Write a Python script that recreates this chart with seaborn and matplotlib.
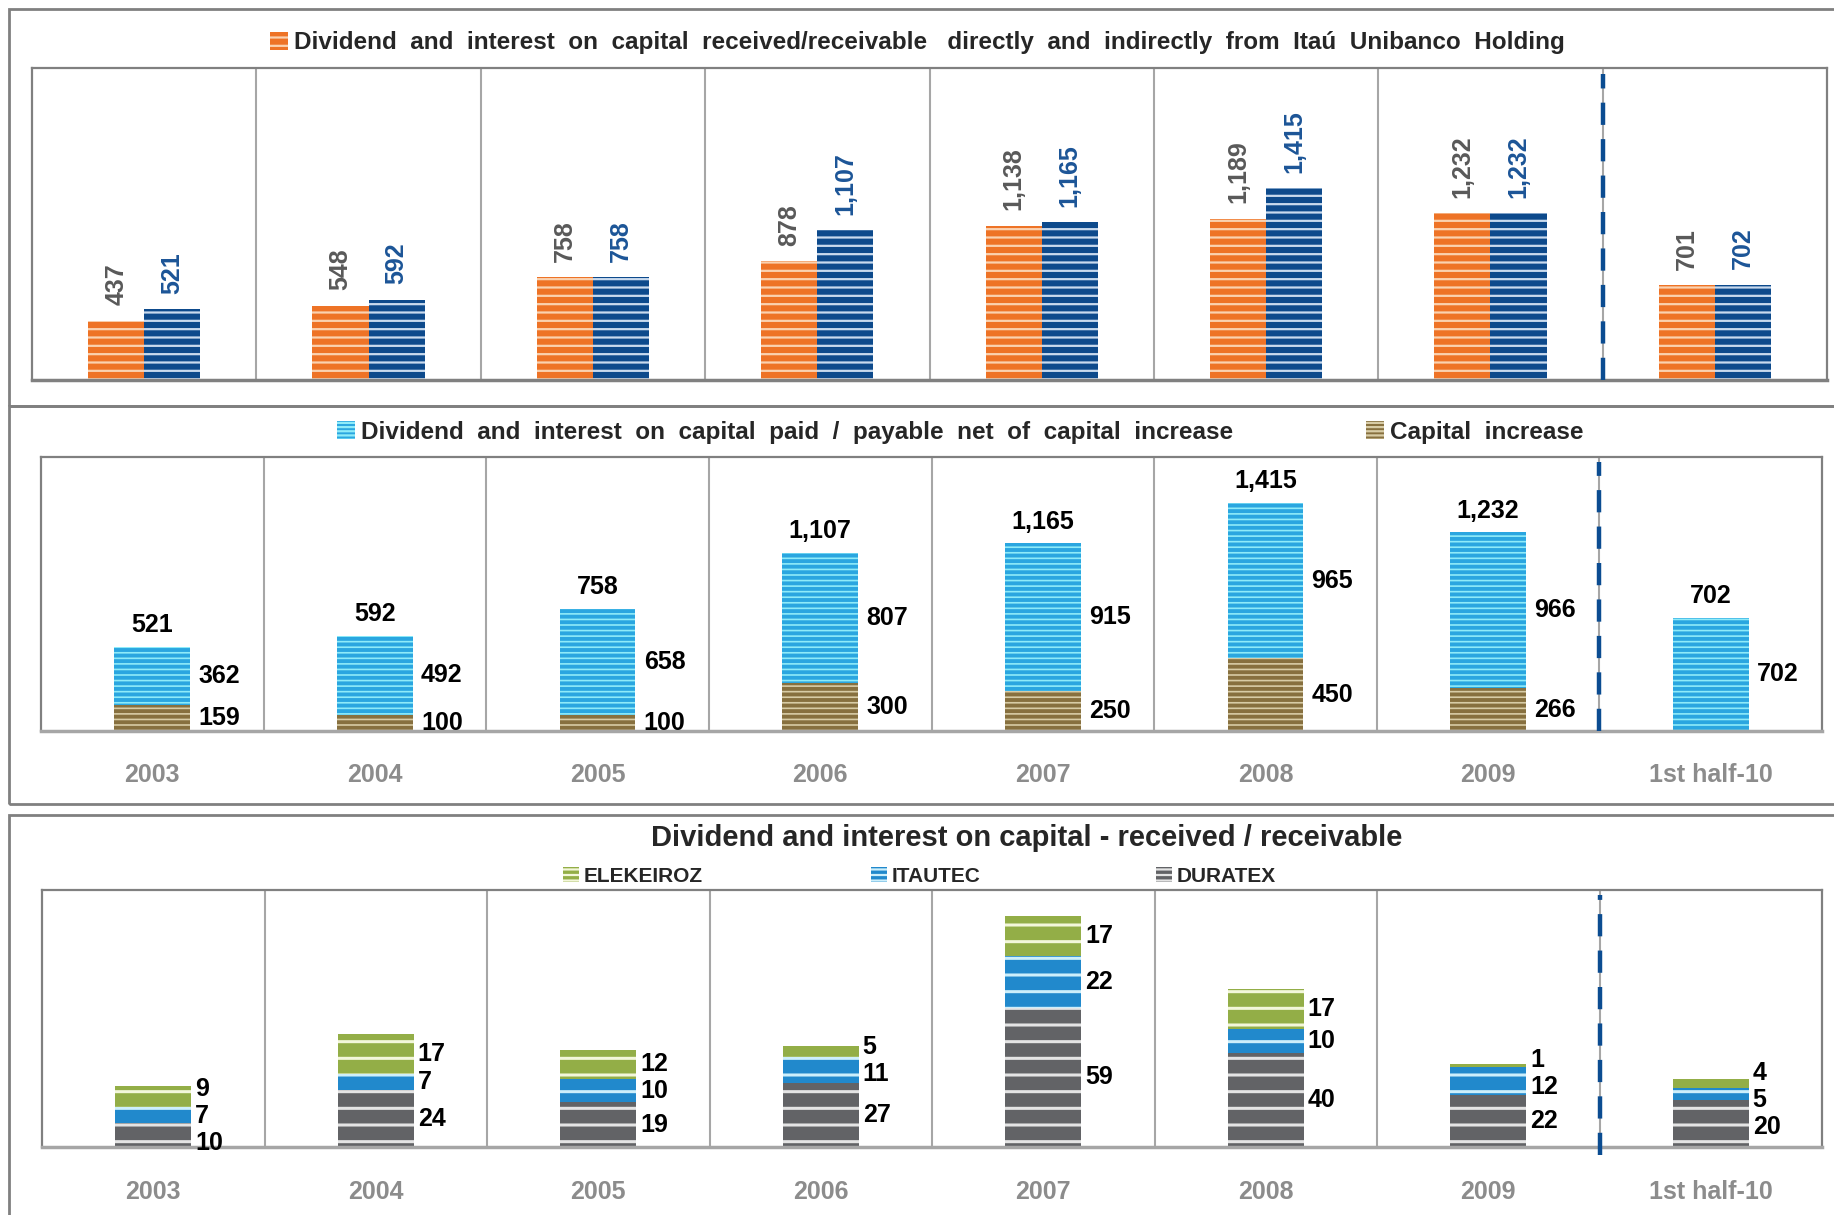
import matplotlib
matplotlib.use("Agg")
import matplotlib.pyplot as plt
from matplotlib.patches import Rectangle, Patch
import seaborn as sns
import pandas as pd

# ---------------- data ----------------
periods = ['2003', '2004', '2005', '2006', '2007', '2008', '2009', '1st half-10']
received = [437, 548, 758, 878, 1138, 1189, 1232, 701]
paid_total = [521, 592, 758, 1107, 1165, 1415, 1232, 702]
net_paid = [362, 492, 658, 807, 915, 965, 966, 702]
capital_increase = [159, 100, 100, 300, 250, 450, 266, 0]
elekeiroz = [9, 17, 12, 5, 17, 17, 1, 4]
itautec = [7, 7, 10, 11, 22, 10, 12, 5]
duratex = [10, 24, 19, 27, 59, 40, 22, 20]

top_title = 'Dividend  and  interest  on  capital  received/receivable   directly  and  indirectly  from  Itaú  Unibanco  Holding'
mid_label_net = 'Dividend  and  interest  on  capital  paid  /  payable  net  of  capital  increase'
mid_label_cap = 'Capital  increase'
bot_title = 'Dividend and interest on capital - received / receivable'
bot_labels = ['ELEKEIROZ', 'ITAUTEC', 'DURATEX']

# ---------------- style ----------------
sns.set_theme(style='white')
plt.rcParams['font.family'] = ['Liberation Sans', 'DejaVu Sans']
plt.rcParams['hatch.linewidth'] = 1.6

C_OR, H_OR = '#EE7326', '#FAD2B0'
C_NV, H_NV = '#0D4A8C', '#C9DAEE'
C_LB, H_LB = '#2AA6E0', '#8EEBF9'
C_BR, H_BR = '#87703F', '#D8CCA6'
C_GR, H_GR = '#93AE47', '#F3F7DA'
C_IT, H_IT = '#2189CC', '#CDEFFB'
C_DU, H_DU = '#626366', '#E4E4E4'
DASH_C = '#0B4C91'
SEP_C = '#A6A6A6'
YEAR_C = '#8C8C8C'

W, H = 1834, 1215
fig = plt.figure(figsize=(W / 100, H / 100), dpi=100)

def fx(px):
    return px / W

def fy(py):
    return 1 - py / H

# panel frames
for y0, y1 in [(406, 9), (804, 406), (1230, 815)]:
    fig.add_artist(Rectangle((fx(9), fy(y0)), 1.1, fy(y1) - fy(y0), transform=fig.transFigure,
                             fill=False, ec='#808080', lw=2))

ax1 = fig.add_axes([fx(32), fy(380), fx(1827) - fx(32), fy(68) - fy(380)])
ax2 = fig.add_axes([fx(41), fy(731), fx(1822) - fx(41), fy(457) - fy(731)])
ax3 = fig.add_axes([fx(42), fy(1147), fx(1822) - fx(42), fy(890) - fy(1147)])


def stripe(patches, hatch, hcolor, hlw=None):
    for p in patches:
        p.set_hatch(hatch)
        p.set_edgecolor(hcolor)
        p.set_linewidth(0)
        if hlw is not None and hasattr(p, 'set_hatch_linewidth'):
            p.set_hatch_linewidth(hlw)


def bars(ax, values, color, hatch, hcolor, width, hlw=None):
    n0 = len(ax.patches)
    sns.barplot(x=periods, y=values, color=color, width=width, errorbar=None, ax=ax,
                order=periods, saturation=1)
    new = ax.patches[n0:]
    stripe(new, hatch, hcolor, hlw)
    return new


def frame(ax, ymax, bottom_spine_c='#808080', dash_below=False):
    ax.set_xlim(-0.5, len(periods) - 0.5)
    ax.set_ylim(0, ymax)
    ax.set_yticks([])
    ax.set_ylabel('')
    ax.set_xlabel('')
    for s in ax.spines.values():
        s.set_visible(True)
        s.set_color('#808080')
        s.set_linewidth(1.6)
    ax.spines['bottom'].set_color(bottom_spine_c)
    ax.spines['bottom'].set_linewidth(2.5)
    for i in range(len(periods) - 1):
        ax.axvline(i + 0.5, color=SEP_C, lw=1.5, zorder=0)
    ax.axvline(len(periods) - 1.5, ymin=-0.03 if dash_below else 0, ymax=0.98,
               color=DASH_C, lw=3.2, linestyle=(0, (5, 3.2)), zorder=3, clip_on=not dash_below)


def spread(ax, ys, gap_px):
    """Push stacked-segment label positions apart so they do not overlap."""
    tr = ax.transData
    pix = [tr.transform((0, y))[1] for y in ys]
    for _ in range(30):
        for k in range(len(pix) - 1):
            d = pix[k + 1] - pix[k]
            if d < gap_px:
                m = (gap_px - d) / 2
                pix[k] -= m
                pix[k + 1] += m
    inv = tr.inverted()
    return [inv.transform((0, p))[1] for p in pix]


# ---------------- top panel ----------------
df_top = pd.DataFrame({
    'period': periods * 2,
    'value': received + paid_total,
    'series': ['received'] * len(periods) + ['paid'] * len(periods),
})
sns.barplot(data=df_top, x='period', y='value', hue='series', order=periods,
            hue_order=['received', 'paid'], palette=[C_OR, C_NV], width=0.5, dodge=True,
            errorbar=None, saturation=1, legend=False, ax=ax1)
n = len(periods)
top_rec = ax1.patches[:n]
top_paid = ax1.patches[n:2 * n]
stripe(top_rec, '--', H_OR)
stripe(top_paid, '--', H_NV)
frame(ax1, 2300, bottom_spine_c='#808080')
ax1.set_xticks([])
for patches, vals, col in [(top_rec, received, '#595959'), (top_paid, paid_total, '#1C5597')]:
    for p, v in zip(patches, vals):
        ax1.annotate(f'{v:,}', (p.get_x() + p.get_width() / 2, p.get_height()),
                     xytext=(0, 11), textcoords='offset points', rotation=90,
                     ha='center', va='bottom', fontsize=18, fontweight='bold', color=col)

# ---------------- middle panel ----------------
mid_tot = bars(ax2, paid_total, C_LB, '---', H_LB, 0.34, 1.2)
mid_cap = bars(ax2, capital_increase, C_BR, '---', H_BR, 0.34, 1.2)
frame(ax2, 1700, bottom_spine_c='#A6A6A6')
for p, tot, net, cap in zip(mid_tot, paid_total, net_paid, capital_increase):
    cx = p.get_x() + p.get_width() / 2
    right = p.get_x() + p.get_width()
    ax2.annotate(f'{tot:,}', (cx, tot), xytext=(0, 7), textcoords='offset points',
                 ha='center', va='bottom', fontsize=18, fontweight='bold', color='black')
    ax2.annotate(f'{net:,}', (right, cap + net / 2), xytext=(6, 0), textcoords='offset points',
                 ha='left', va='center', fontsize=18, fontweight='bold', color='black')
    if cap > 0:
        ax2.annotate(f'{cap:,}', (right, cap / 2), xytext=(6, 0), textcoords='offset points',
                     ha='left', va='center', fontsize=18, fontweight='bold', color='black')
ax2.set_xticks(range(len(periods)))
ax2.set_xticklabels(periods, fontsize=18, fontweight='bold', color=YEAR_C)
ax2.tick_params(axis='x', length=0, pad=23)

# ---------------- bottom panel ----------------
tot3 = [a + b + c for a, b, c in zip(duratex, itautec, elekeiroz)]
mid3 = [a + b for a, b in zip(duratex, itautec)]
b_el = bars(ax3, tot3, C_GR, '-', H_GR, 0.34, 2.2)
b_it = bars(ax3, mid3, C_IT, '-', H_IT, 0.34, 2.2)
b_du = bars(ax3, duratex, C_DU, '-', H_DU, 0.34, 2.2)
frame(ax3, 109, bottom_spine_c='#A6A6A6', dash_below=True)
for p, d, i, e in zip(b_el, duratex, itautec, elekeiroz):
    right = p.get_x() + p.get_width()
    ys = spread(ax3, [d / 2, d + i / 2, d + i + e / 2], 27)
    for val, yc in zip([d, i, e], ys):
        ax3.annotate(f'{val}', (right, yc), xytext=(3, 0), textcoords='offset points',
                     ha='left', va='center', fontsize=18, fontweight='bold', color='black')
ax3.set_xticks(range(len(periods)))
ax3.set_xticklabels(periods, fontsize=18, fontweight='bold', color=YEAR_C)
ax3.tick_params(axis='x', length=0, pad=24)

# ---------------- legends / titles ----------------
def legend_item(x_px, y_px, label, color, hatch, hcolor, size):
    h = Patch(facecolor=color, edgecolor=hcolor, hatch=hatch, linewidth=0)
    fig.legend(handles=[h], labels=[label], loc='center left',
               bbox_to_anchor=(fx(x_px), fy(y_px)), frameon=False,
               prop={'size': size, 'weight': 'bold'},
               handlelength=0.75, handleheight=0.75, handletextpad=0.25,
               borderpad=0, borderaxespad=0)

legend_item(270, 43, top_title, C_OR, '--', H_OR, 17.5)
legend_item(337, 432, mid_label_net, C_LB, '----', H_LB, 17.5)
legend_item(1366, 432, mid_label_cap, C_BR, '----', H_BR, 17.5)
fig.text(fx(1027), fy(838), bot_title, ha='center', va='center', fontsize=21,
         fontweight='bold')
legend_item(563, 876, bot_labels[0], C_GR, '---', H_GR, 15)
legend_item(871, 876, bot_labels[1], C_IT, '---', H_IT, 15)
legend_item(1156, 876, bot_labels[2], C_DU, '---', H_DU, 15)

fig.savefig('out.png', dpi=100)
